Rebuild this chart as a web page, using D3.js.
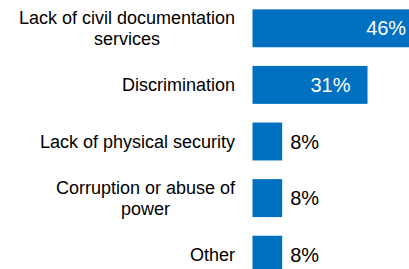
<!DOCTYPE html>
<html>
<head>
<meta charset="utf-8">
<script src="https://cdn.jsdelivr.net/npm/d3@7"></script>
<style>
  html, body { margin: 0; padding: 0; background: #fff; overflow: hidden; }
  svg { display: block; font-family: "Liberation Sans", Arial, sans-serif; }
</style>
</head>
<body>
<div class="svg"></div>
<script>
// chart data
var categories = [
    "Lack of civil documentation\nservices",
    "Discrimination",
    "Lack of physical security",
    "Corruption or abuse of\npower",
    "Other"
];
var values = [46, 31, 8, 8, 8];
var valueLabels = ["46%", "31%", "8%", "8%", "8%"];

var width = 409, height = 269;
var barLeft = 252.5, labelRight = 235;

var svg = d3.select(".svg")
    .append("svg")
    .attr("width", width)
    .attr("height", height);

// Set the ranges (about 3.71px per percent)
var x = d3.scaleLinear().domain([0, 100]).range([barLeft, barLeft + 371]);
var y = d3.scaleBand()
    .domain(categories)
    .range([0, 283])
    .paddingInner(0.33)
    .paddingOuter(0.165);

var data = categories.map(function(c, i) {
    return {cat: c, value: values[i], label: valueLabels[i]};
});

// bars
svg.selectAll("rect.bar")
    .data(data)
    .enter().append("rect")
    .attr("class", "bar")
    .attr("x", x(0))
    .attr("y", function(d) { return y(d.cat); })
    .attr("width", function(d) { return x(d.value) - x(0); })
    .attr("height", y.bandwidth())
    .attr("fill", "#0070c0");

// value labels: inside for the big ones, outside for small
svg.selectAll("text.val")
    .data(data)
    .enter().append("text")
    .attr("class", "val")
    .attr("font-size", "20px")
    .attr("dy", "0.35em")
    .attr("y", function(d) { return y(d.cat) + y.bandwidth() / 2; })
    .attr("x", function(d) { return d.value > 20 ? x(d.value) - 17 : x(d.value) + 8; })
    .attr("text-anchor", function(d) { return d.value > 20 ? "end" : "start"; })
    .attr("fill", function(d) { return d.value > 20 ? "#fff" : "#000"; })
    .text(function(d) { return d.label; });

// category labels, block right aligned, lines centred within block
var lineH = 21;
var groups = svg.selectAll("g.cat")
    .data(data)
    .enter().append("g")
    .attr("class", "cat");

groups.each(function(d) {
    var g = d3.select(this);
    var lines = d.cat.split("\n");
    var cy = y(d.cat) + y.bandwidth() / 2;
    var texts = g.selectAll("text")
        .data(lines)
        .enter().append("text")
        .attr("font-size", "18px")
        .attr("fill", "#000")
        .attr("text-anchor", "middle")
        .attr("dy", "0.35em")
        .attr("y", function(l, i) { return cy + (i - (lines.length - 1) / 2) * lineH; })
        .text(function(l) { return l; });
    var maxW = 0;
    texts.each(function() { maxW = Math.max(maxW, this.getComputedTextLength()); });
    texts.attr("x", labelRight - maxW / 2);
});
</script>
</body>
</html>
